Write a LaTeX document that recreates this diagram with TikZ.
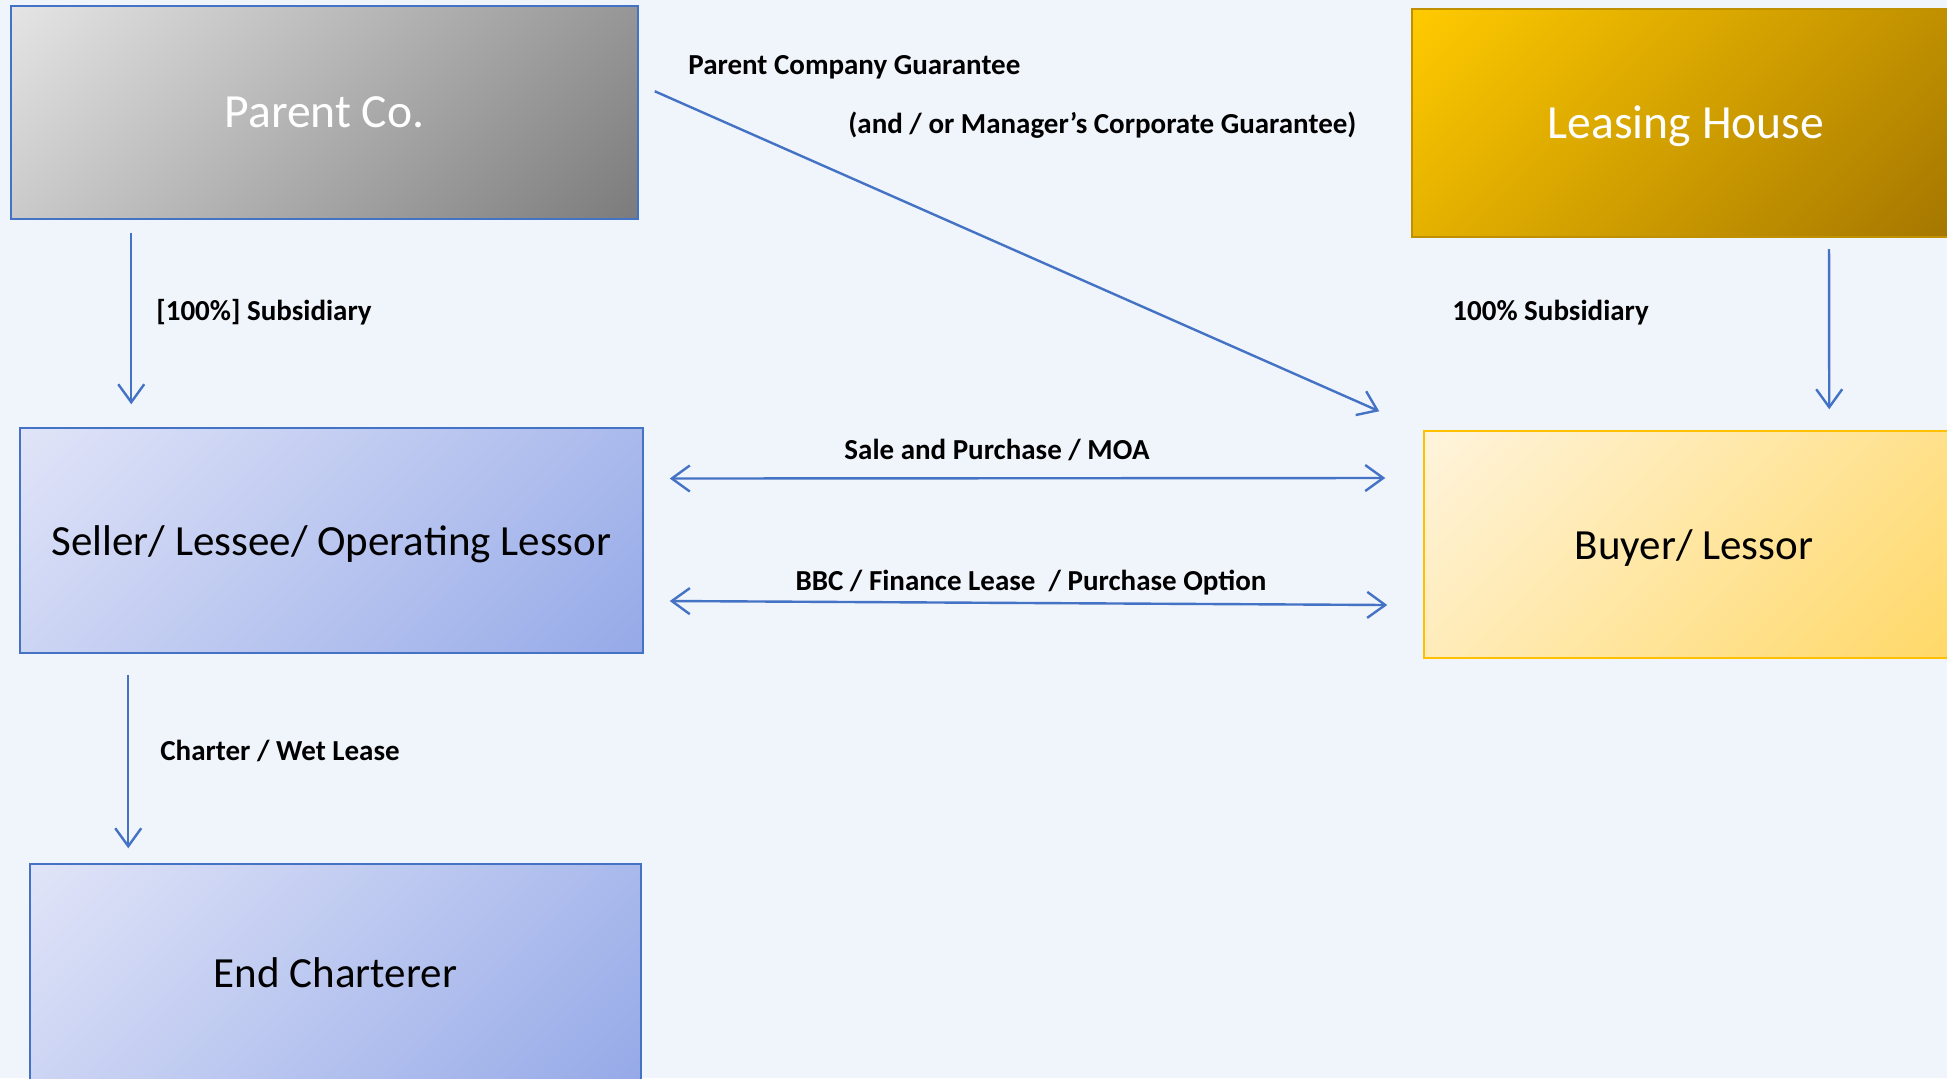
\documentclass[tikz,border=0pt]{standalone}
\usepackage{fontspec}
\setmainfont{Carlito}
\usetikzlibrary{arrows.meta,positioning,calc}

\definecolor{linkblue}{RGB}{68,114,196}
\definecolor{paper}{RGB}{240,244,251}
\definecolor{greyA}{RGB}{228,228,228}
\definecolor{greyB}{RGB}{124,124,124}
\definecolor{goldA}{RGB}{255,202,0}
\definecolor{goldB}{RGB}{164,118,0}
\definecolor{goldline}{RGB}{191,144,0}
\definecolor{lilacA}{RGB}{224,228,248}
\definecolor{lilacB}{RGB}{150,170,232}
\definecolor{creamA}{RGB}{255,244,220}
\definecolor{creamB}{RGB}{255,216,102}
\definecolor{creamline}{RGB}{255,192,0}

% corner to corner gradients
\pgfdeclareverticalshading{greyshade}{100bp}{color(0bp)=(greyB); color(15bp)=(greyB); color(85bp)=(greyA); color(100bp)=(greyA)}
\pgfdeclareverticalshading{goldshade}{100bp}{color(0bp)=(goldB); color(15bp)=(goldB); color(85bp)=(goldA); color(100bp)=(goldA)}
\pgfdeclareverticalshading{lilacshade}{100bp}{color(0bp)=(lilacB); color(15bp)=(lilacB); color(85bp)=(lilacA); color(100bp)=(lilacA)}
\pgfdeclareverticalshading{creamshade}{100bp}{color(0bp)=(creamB); color(15bp)=(creamB); color(85bp)=(creamA); color(100bp)=(creamA)}

\tikzset{
  partybox/.style={draw=linkblue, line width=0.75pt, rectangle, inner sep=0pt,
    text height=19pt, text depth=4.5pt, font=\fontsize{21.5}{26}\selectfont},
  bigbox/.style={partybox, text=white, text height=21pt, text depth=6pt,
    font=\fontsize{23.8}{28}\selectfont},
  link/.style={draw=linkblue, line width=1.2pt, ->},
  twoway/.style={draw=linkblue, line width=1.2pt, <->},
  linklabel/.style={inner sep=0pt, font=\fontsize{14.5}{17}\selectfont\bfseries}
}

\begin{document}
\begin{tikzpicture}[x=0.5pt,y=-0.5pt,>={Straight Barb[length=9pt,width=13pt]}]

\useasboundingbox (0,0) rectangle (1947,1078);
\clip (0,0) rectangle (1947,1078);
\fill[paper] (0,0) rectangle (1947,1078);

% parties
\node[bigbox, shading=greyshade, shading angle=45,
  minimum width=313.5pt, minimum height=106.5pt] (parent) at (324.5,112.5) {Parent Co.};
\node[bigbox, draw=goldline, line width=1pt, shading=goldshade, shading angle=45,
  minimum width=274pt, minimum height=114pt] (leasing) at (1686,123) {Leasing House};
\node[partybox, shading=lilacshade, shading angle=45,
  minimum width=311.5pt, minimum height=112.5pt] (seller) at (331.5,540.5) {Seller/ Lessee/ Operating Lessor};
\node[partybox, draw=creamline, shading=creamshade, shading angle=45,
  minimum width=270pt, minimum height=113.5pt] (buyer) at (1694,544.5) {Buyer/ Lessor};
\node[partybox, shading=lilacshade, shading angle=45,
  minimum width=305.5pt, minimum height=109pt] (endch) at (335.5,973) {End Charterer};

% connectors
\draw[link, shorten <=6.5pt, shorten >=11.5pt] ([xshift=60.5pt]parent.south west) -- ([xshift=56pt]seller.north west);
\draw[link, shorten <=10.5pt, shorten >=7.5pt] ([xshift=54.5pt]seller.south west) -- ([xshift=49.5pt]endch.north west);
\draw[link, shorten <=5.5pt, shorten >=10.5pt] ([xshift=209pt]leasing.south west) -- ([xshift=203pt]buyer.north west);
\draw[link] ([xshift=8pt,yshift=-43pt]parent.north east) -- ([xshift=-22pt,yshift=9.5pt]buyer.north west);
\draw[twoway] ([xshift=13pt,yshift=31pt]seller.east) -- ([xshift=-19pt,yshift=33.25pt]buyer.west);
\draw[twoway] ([xshift=13pt,yshift=-30.25pt]seller.east) -- ([xshift=-18pt,yshift=-30.25pt]buyer.west);

% labels
\node[linklabel, anchor=west] (pcg) at (688,67.5) {Parent Company Guarantee};
\node[linklabel, anchor=west] (mcg) at (848,125.5) {(and / or Manager’s Corporate Guarantee)};
\node[linklabel, anchor=west] (sub1) at (156,312.5) {[100\%] Subsidiary};
\node[linklabel, anchor=west] (sub2) at (1452,312.5) {100\% Subsidiary};
\node[linklabel] (moa) at (997,450) {Sale and Purchase / MOA};
\node[linklabel] (bbc) at (1031,582.5) {BBC / Finance Lease\ \ / Purchase Option};
\node[linklabel, anchor=west] (wet) at (160,751) {Charter / Wet Lease};

\end{tikzpicture}
\end{document}
